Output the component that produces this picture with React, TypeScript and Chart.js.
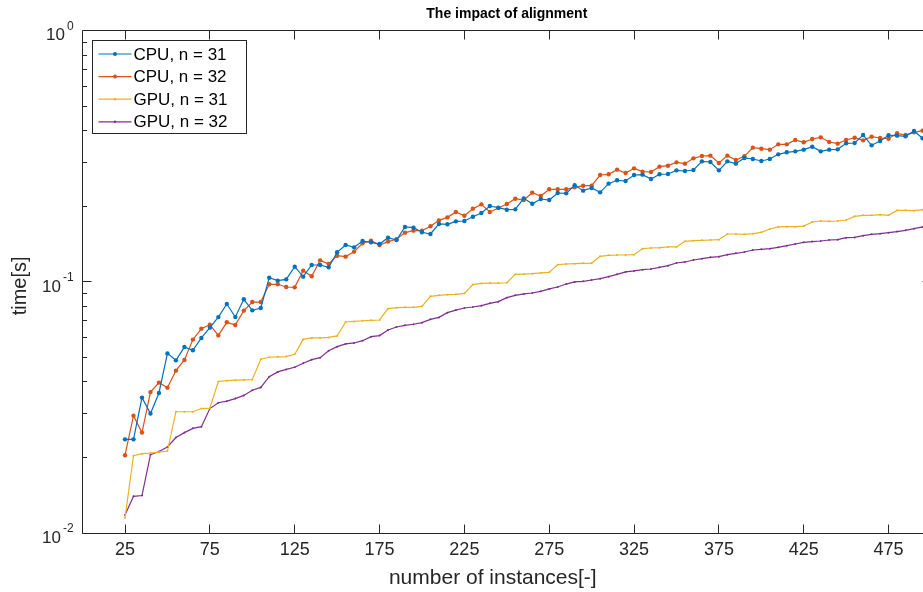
import React, { useEffect, useRef } from "react";
import { Chart, registerables } from "chart.js";

Chart.register(...registerables);

// number of instances (x)
const instances = [
  25, 30, 35, 40, 45, 50, 55, 60, 65, 70,
  75, 80, 85, 90, 95, 100, 105, 110, 115, 120,
  125, 130, 135, 140, 145, 150, 155, 160, 165, 170,
  175, 180, 185, 190, 195, 200, 205, 210, 215, 220,
  225, 230, 235, 240, 245, 250, 255, 260, 265, 270,
  275, 280, 285, 290, 295, 300, 305, 310, 315, 320,
  325, 330, 335, 340, 345, 350, 355, 360, 365, 370,
  375, 380, 385, 390, 395, 400, 405, 410, 415, 420,
  425, 430, 435, 440, 445, 450, 455, 460, 465, 470,
  475, 480, 485, 490, 495, 500,
];

const cpu31 = [
  0.0236, 0.0236, 0.0346, 0.0299, 0.0361, 0.0519, 0.0487, 0.055, 0.0534, 0.0598,
  0.0657, 0.0724, 0.0816, 0.0724, 0.0852, 0.077, 0.0787, 0.1039, 0.1011, 0.1023,
  0.1149, 0.1049, 0.1167, 0.1167, 0.1142, 0.1311, 0.1402, 0.1372, 0.1454, 0.1437,
  0.1415, 0.1499, 0.1468, 0.1654, 0.1643, 0.1575, 0.1551, 0.17, 0.1695, 0.1741,
  0.1747, 0.1817, 0.188, 0.2004, 0.1974, 0.1938, 0.1944, 0.215, 0.2047, 0.2137,
  0.2117, 0.2258, 0.2251, 0.2423, 0.2307, 0.2364, 0.2272, 0.246, 0.2537, 0.2521,
  0.2663, 0.2672, 0.2568, 0.268, 0.2688, 0.278, 0.2763, 0.2789, 0.3019, 0.3,
  0.278, 0.3019, 0.2955, 0.3113, 0.3084, 0.3028, 0.3084, 0.3219, 0.3279, 0.3309,
  0.336, 0.3453, 0.3309, 0.336, 0.337, 0.3561, 0.3571, 0.3843, 0.3496, 0.3638,
  0.3832, 0.382, 0.3797, 0.3987, 0.3728, 0.3878,
];

const cpu32 = [
  0.0204, 0.0293, 0.0251, 0.0364, 0.0397, 0.0379, 0.0443, 0.0489, 0.0589, 0.0651,
  0.0675, 0.0612, 0.069, 0.0673, 0.0768, 0.0831, 0.0831, 0.0978, 0.0978, 0.0954,
  0.0951, 0.1108, 0.1052, 0.1218, 0.1178, 0.1271, 0.126, 0.1319, 0.1424, 0.1459,
  0.1402, 0.1446, 0.1477, 0.157, 0.1599, 0.1599, 0.1664, 0.1757, 0.1806, 0.1897,
  0.1834, 0.1956, 0.2035, 0.1897, 0.1968, 0.2041, 0.2143, 0.2117, 0.2265, 0.2197,
  0.2336, 0.2336, 0.2336, 0.2379, 0.2415, 0.2415, 0.2663, 0.268, 0.2797, 0.2713,
  0.2831, 0.2746, 0.2738, 0.2875, 0.2901, 0.2991, 0.2955, 0.3103, 0.317, 0.318,
  0.2973, 0.318, 0.3056, 0.3161, 0.3422, 0.339, 0.336, 0.3528, 0.3528, 0.3671,
  0.3594, 0.3705, 0.3762, 0.3605, 0.355, 0.3671, 0.375, 0.366, 0.3785, 0.3739,
  0.3716, 0.3903, 0.3843, 0.3938, 0.3999, 0.3987,
];

const gpu31 = [
  0.0115, 0.0203, 0.0207, 0.0208, 0.021, 0.0212, 0.0304, 0.0304, 0.0304, 0.0313,
  0.0314, 0.0401, 0.0404, 0.0406, 0.0407, 0.0408, 0.0492, 0.0501, 0.0503, 0.0504,
  0.0515, 0.059, 0.0598, 0.0598, 0.0601, 0.0609, 0.0692, 0.0696, 0.07, 0.0703,
  0.0705, 0.0782, 0.0789, 0.0792, 0.0792, 0.0799, 0.0876, 0.0884, 0.0889, 0.0892,
  0.09, 0.0975, 0.0986, 0.0989, 0.0989, 0.0992, 0.1071, 0.1074, 0.1078, 0.1085,
  0.1091, 0.1171, 0.1178, 0.1181, 0.1185, 0.1188, 0.1264, 0.1275, 0.1279, 0.1279,
  0.1283, 0.1356, 0.1364, 0.1368, 0.1377, 0.1377, 0.145, 0.1459, 0.1463, 0.1468,
  0.1472, 0.1551, 0.1551, 0.1546, 0.1556, 0.1575, 0.1624, 0.1654, 0.1659, 0.1659,
  0.1668, 0.1731, 0.1747, 0.1741, 0.1747, 0.1763, 0.1823, 0.184, 0.184, 0.1851,
  0.184, 0.1926, 0.1926, 0.192, 0.1938, 0.1944,
];

const gpu32 = [
  0.0118, 0.014, 0.0141, 0.0205, 0.0211, 0.022, 0.024, 0.0251, 0.0261, 0.0265,
  0.0313, 0.033, 0.0335, 0.0343, 0.0353, 0.037, 0.038, 0.0419, 0.0438, 0.0448,
  0.0457, 0.0474, 0.049, 0.0499, 0.0532, 0.0552, 0.0566, 0.0571, 0.0583, 0.0605,
  0.0611, 0.0643, 0.0661, 0.0671, 0.0678, 0.0688, 0.0709, 0.0722, 0.0754, 0.0772,
  0.0787, 0.0794, 0.0804, 0.0821, 0.0834, 0.0865, 0.0884, 0.0895, 0.0903, 0.0917,
  0.0937, 0.0954, 0.098, 0.0999, 0.1005, 0.1017, 0.103, 0.1049, 0.1071, 0.1095,
  0.1105, 0.1118, 0.1125, 0.1142, 0.116, 0.1189, 0.12, 0.1222, 0.1237, 0.1252,
  0.126, 0.1283, 0.1299, 0.1315, 0.1339, 0.1347, 0.1356, 0.1372, 0.1393, 0.1415,
  0.1437, 0.1446, 0.1454, 0.1468, 0.1472, 0.1499, 0.1503, 0.1527, 0.1546, 0.1556,
  0.157, 0.1585, 0.1604, 0.1628, 0.1654, 0.1673,
];

const seriesNames = ["CPU, n = 31", "CPU, n = 32", "GPU, n = 31", "GPU, n = 32"];
const seriesColors = ["#0072BD", "#D95319", "#EDB120", "#7E2F8E"];
const xTicks = [25, 75, 125, 175, 225, 275, 325, 375, 425, 475];
const yMajor = [1, 0.1, 0.01];
const yExponents = ["0", "-1", "-2"];
const titleText = "The impact of alignment";
const xLabelText = "number of instances[-]";
const yLabelText = "time[s]";

const AXIS = "#262626";
const FONT = "'Liberation Sans', Arial, Helvetica, sans-serif";

const framePlugin = {
  id: "matlabFrame",
  afterDraw(chart: any) {
    const { ctx, chartArea: a, scales } = chart;
    const xs = scales.x;
    const ys = scales.y;
    const L = Math.floor(a.left) + 0.5;
    const R = Math.floor(a.right) + 0.5;
    const T = Math.floor(a.top) + 0.5;
    const B = Math.floor(a.bottom) + 0.5;
    ctx.save();
    ctx.strokeStyle = AXIS;
    ctx.lineWidth = 1;
    ctx.beginPath();
    ctx.moveTo(L, T);
    ctx.lineTo(R, T);
    ctx.lineTo(R, B);
    ctx.lineTo(L, B);
    ctx.closePath();
    ctx.stroke();

    const major = 9;
    const minor = 4.5;
    ctx.beginPath();
    xTicks.forEach((v) => {
      const px = Math.floor(xs.getPixelForValue(v)) + 0.5;
      ctx.moveTo(px, B);
      ctx.lineTo(px, B - major);
      ctx.moveTo(px, T);
      ctx.lineTo(px, T + major);
    });
    yMajor.forEach((v) => {
      const py = Math.floor(ys.getPixelForValue(v)) + 0.5;
      ctx.moveTo(L, py);
      ctx.lineTo(L + major, py);
      ctx.moveTo(R, py);
      ctx.lineTo(R - major, py);
    });
    [0.01, 0.1].forEach((dec) => {
      for (let k = 2; k <= 9; k++) {
        const py = Math.floor(ys.getPixelForValue(dec * k)) + 0.5;
        ctx.moveTo(L, py);
        ctx.lineTo(L + minor, py);
        ctx.moveTo(R, py);
        ctx.lineTo(R - minor, py);
      }
    });
    ctx.stroke();

    // x tick labels
    ctx.fillStyle = AXIS;
    ctx.font = `18px ${FONT}`;
    ctx.textAlign = "center";
    ctx.textBaseline = "middle";
    xTicks.forEach((v) => {
      ctx.fillText(String(v), xs.getPixelForValue(v), a.bottom + 17);
    });

    // y tick labels 10^k
    yMajor.forEach((v, i) => {
      const py = ys.getPixelForValue(v);
      const right = a.left - 9;
      ctx.font = `12px ${FONT}`;
      ctx.textAlign = "right";
      ctx.textBaseline = "middle";
      const ew = ctx.measureText(yExponents[i]).width;
      ctx.fillText(yExponents[i], right, py - 4);
      ctx.font = `17px ${FONT}`;
      ctx.fillText("10", right - ew - 2, py + 5);
    });

    // axis labels
    const cx = (a.left + a.right) / 2;
    ctx.font = `21px ${FONT}`;
    ctx.textAlign = "center";
    ctx.textBaseline = "middle";
    ctx.fillText(xLabelText, cx - 14, a.bottom + 45);
    ctx.font = `20px ${FONT}`;
    ctx.save();
    ctx.translate(20, (a.top + a.bottom) / 2 + 4);
    ctx.rotate(-Math.PI / 2);
    ctx.fillText(yLabelText, 0, 0);
    ctx.restore();

    // title
    ctx.font = `bold 14px ${FONT}`;
    ctx.fillStyle = "#000000";
    ctx.fillText(titleText, cx, a.top - 17);

    // legend
    const bx = Math.floor(a.left) + 10.5;
    const by = Math.floor(a.top) + 10.5;
    const bw = 154;
    const bh = 93;
    ctx.fillStyle = "#ffffff";
    ctx.fillRect(bx, by, bw, bh);
    ctx.strokeStyle = AXIS;
    ctx.strokeRect(bx, by, bw, bh);
    ctx.font = `17px ${FONT}`;
    ctx.textAlign = "left";
    ctx.textBaseline = "middle";
    seriesNames.forEach((name, i) => {
      const yy = by + 13.5 + i * 22.6;
      ctx.strokeStyle = seriesColors[i];
      ctx.lineWidth = 1.2;
      ctx.beginPath();
      ctx.moveTo(bx + 6, yy);
      ctx.lineTo(bx + 39, yy);
      ctx.stroke();
      ctx.fillStyle = seriesColors[i];
      ctx.beginPath();
      ctx.arc(bx + 22.5, yy, i < 2 ? 2 : 1.2, 0, Math.PI * 2);
      ctx.fill();
      ctx.fillStyle = "#000000";
      ctx.fillText(name, bx + 41, yy + 1);
    });
    ctx.restore();
  },
};

export default function App() {
  const ref = useRef<HTMLCanvasElement | null>(null);
  useEffect(() => {
    if (!ref.current) return;
    const all = [cpu31, cpu32, gpu31, gpu32];
    const chart = new Chart(ref.current, {
      type: "line",
      data: {
        datasets: all.map((vals, i) => ({
          label: seriesNames[i],
          data: instances.map((x, j) => ({ x, y: vals[j] })),
          borderColor: seriesColors[i],
          backgroundColor: seriesColors[i],
          borderWidth: 1.2,
          pointRadius: i < 2 ? 2.2 : 1,
          pointBorderWidth: 0,
          pointHoverRadius: 0,
          tension: 0,
          fill: false,
        })),
      },
      options: {
        responsive: false,
        animation: false,
        events: [],
        layout: { padding: { left: 82.6, right: 950 - 931, top: 30.7, bottom: 592 - 533 } },
        scales: {
          x: { type: "linear", min: 0, max: 500, display: false },
          y: { type: "logarithmic", min: 0.01, max: 1, display: false },
        },
        plugins: {
          legend: { display: false },
          tooltip: { enabled: false },
          title: { display: false },
        },
      },
      plugins: [framePlugin],
    });
    return () => chart.destroy();
  }, []);
  return (
    <div
      style={{
        position: "fixed",
        left: 0,
        top: 0,
        width: 923,
        height: 592,
        overflow: "hidden",
        background: "#ffffff",
      }}
    >
      <canvas ref={ref} width={950} height={592} style={{ display: "block", width: 950, height: 592 }} />
    </div>
  );
}
